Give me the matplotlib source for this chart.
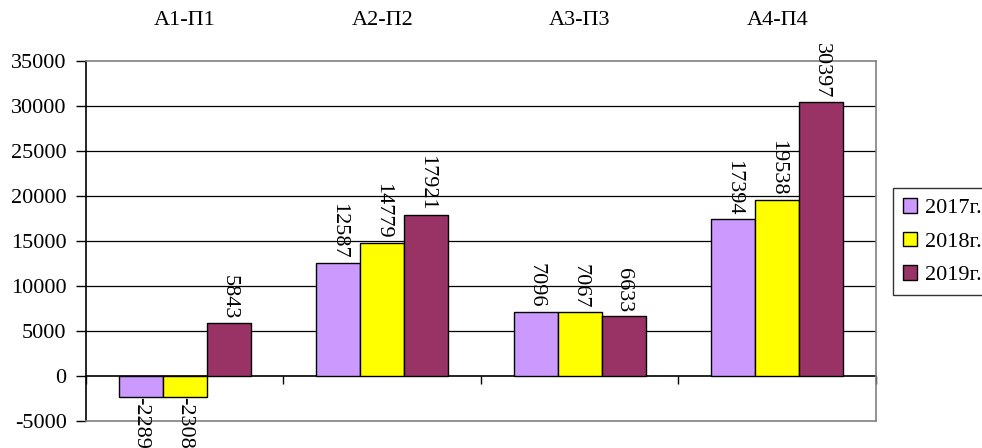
import matplotlib
matplotlib.use("Agg")
import matplotlib.pyplot as plt
import numpy as np

plt.rcParams['font.family'] = ['Liberation Serif', 'DejaVu Serif']

categories = ['А1-П1', 'А2-П2', 'А3-П3', 'А4-П4']
years = ['2017г.', '2018г.', '2019г.']
values_2017 = [-2289, 12587, 7096, 17394]
values_2018 = [-2308, 14779, 7067, 19538]
values_2019 = [5843, 17921, 6633, 30397]
colors = ['#CC99FF', '#FFFF00', '#993366']

series = [values_2017, values_2018, values_2019]
fs = 16

fig = plt.figure(figsize=(9.82, 4.48), dpi=100)
ax = fig.add_axes([86 / 982, 1 - 421 / 448, 790 / 982, 360 / 448])

x = np.arange(len(categories)) + 0.5
width = 0.223
for i, (vals, col, lab) in enumerate(zip(series, colors, years)):
    pos = x + (i - 1) * width
    ax.bar(pos, vals, width=width, color=col, edgecolor='black',
           linewidth=1.0, label=lab, zorder=3)
    for xp, v in zip(pos, vals):
        if v >= 0:
            ax.annotate(str(v), (xp, v), xytext=(0, 3), textcoords='offset points',
                        rotation=270, ha='center', va='bottom', fontsize=fs,
                        annotation_clip=False, zorder=4)
        else:
            ax.annotate(str(v), (xp, v), xytext=(0, 0), textcoords='offset points',
                        rotation=270, ha='center', va='top', fontsize=fs,
                        annotation_clip=False, zorder=4)

ax.set_xlim(0, len(categories))
ax.set_ylim(-5000, 35000)
yticks = np.arange(-5000, 35001, 5000)
ax.set_yticks(yticks)
ax.set_yticklabels([str(t) for t in yticks], fontsize=fs)
ax.tick_params(axis='y', direction='out', length=7, width=1, color='black', pad=7)

# horizontal gridlines inside the plot area
for t in yticks:
    if -5000 < t < 35000 and t != 0:
        ax.axhline(t, color='black', linewidth=0.9, zorder=1)

# category names along the top
ax.xaxis.tick_top()
ax.set_xticks(x)
ax.set_xticklabels(categories, fontsize=fs)
ax.tick_params(axis='x', length=0, pad=22)

# category axis at zero with tick marks between groups
secax = ax.secondary_xaxis(5000 / 40000)
secax.set_xticks(np.arange(0, len(categories) + 1))
secax.set_xticklabels([])
secax.tick_params(axis='x', direction='out', length=6, width=1, color='black')
secax.spines['bottom'].set_color('black')
secax.spines['bottom'].set_linewidth(1.2)

for side in ['top', 'right', 'bottom']:
    ax.spines[side].set_color('#808080')
    ax.spines[side].set_linewidth(1.2)
ax.spines['left'].set_color('black')
ax.spines['left'].set_linewidth(1.2)

leg = fig.legend(loc='upper left', bbox_to_anchor=(893 / 982, 1 - 188 / 448),
                 fontsize=fs, frameon=True, fancybox=False, edgecolor='black',
                 handlelength=0.65, handleheight=0.65, handletextpad=0.35,
                 borderpad=0.45, labelspacing=0.6, borderaxespad=0)
leg.get_frame().set_linewidth(1.0)

fig.savefig('out.png', dpi=100)
